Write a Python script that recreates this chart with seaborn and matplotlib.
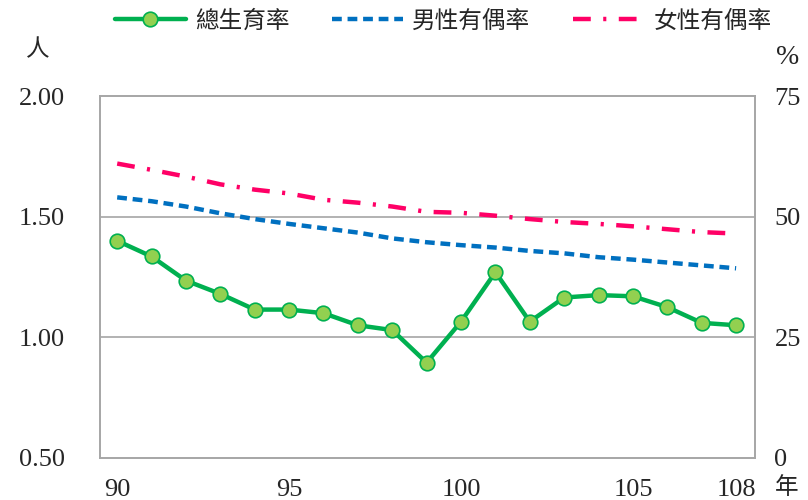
import numpy as np
import pandas as pd
import matplotlib
matplotlib.use("Agg")
import matplotlib.pyplot as plt
import seaborn as sns

# data (ROC years 90-108)
years = list(range(90, 109))
tfr = [1.400, 1.335, 1.235, 1.180, 1.115, 1.115, 1.100, 1.050, 1.030, 0.895,
       1.065, 1.270, 1.065, 1.165, 1.175, 1.170, 1.125, 1.060, 1.050]
male_married = [54.0, 53.2, 52.1, 50.7, 49.5, 48.5, 47.6, 46.7, 45.5, 44.7,
                44.1, 43.6, 42.9, 42.4, 41.6, 41.1, 40.5, 39.9, 39.3]
female_married = [61.0, 59.7, 58.3, 56.7, 55.6, 54.8, 53.5, 52.9, 52.1, 51.0,
                  50.8, 50.2, 49.5, 48.9, 48.5, 48.0, 47.4, 46.8, 46.5]
xticks = [90, 95, 100, 105, 108]
left_ticks = [0.5, 1.0, 1.5, 2.0]
right_ticks = [0, 25, 50, 75]

df = pd.DataFrame({"year": years, "tfr": tfr,
                   "male": male_married, "female": female_married})

sns.set_theme(style="white")
plt.rcParams['font.family'] = ['Liberation Serif', 'Noto Sans CJK TC']
cjk = ['Noto Sans CJK TC', 'DejaVu Sans']

fig = plt.figure(figsize=(8.08, 5.0), dpi=100)
ax = fig.add_axes([100 / 808, 1 - 458 / 500, 655 / 808, 362 / 500])
ax2 = ax.twinx()

grey = '#a6a6a6'
for v in [1.0, 1.5]:
    ax.axhline(v, color=grey, lw=1.2, zorder=0)

sns.lineplot(data=df, x='year', y='tfr', ax=ax, color='#00b050', lw=3.2,
             marker='o', markersize=10.5, markerfacecolor='#92d050',
             markeredgecolor='#00b050', markeredgewidth=1.2, label='總生育率',
             legend=False, zorder=3)
sns.lineplot(data=df, x='year', y='male', ax=ax2, color='#0070c0', lw=3.2,
             dashes=False, label='男性有偶率', legend=False)
sns.lineplot(data=df, x='year', y='female', ax=ax2, color='#ff0066', lw=3.2,
             label='女性有偶率', legend=False)
ax2.lines[0].set_dashes((2.2, 1.3))
ax2.lines[1].set_dashes((4.0, 2.8, 0.7, 2.8))

ax.set_xlim(89.5, 108.55)
ax.set_ylim(0.5, 2.0)
ax2.set_ylim(0, 75)
ax.set_xticks(xticks)
ax.set_yticks(left_ticks)
ax.set_yticklabels([f"{t:.2f}" for t in left_ticks])
ax2.set_yticks(right_ticks)
ax.set_xlabel('')
ax.set_ylabel('')
ax2.set_ylabel('')

ax.tick_params(axis='y', length=0, pad=25, labelsize=19)
ax.tick_params(axis='x', length=0, pad=15, labelsize=19)
ax2.tick_params(axis='y', length=0, pad=14, labelsize=19)
for a in (ax, ax2):
    for s in a.spines.values():
        s.set_color(grey)
        s.set_linewidth(1.2)

fig.text(38 / 808, 1 - 50 / 500, '人', family=cjk, fontsize=17, ha='center', va='center')
fig.text(788 / 808, 1 - 58 / 500, '%', fontsize=20, ha='center', va='center')
fig.text(787 / 808, 1 - 488 / 500, '年', family=cjk, fontsize=17, ha='center', va='center')

handles = [ax.lines[-1], ax2.lines[0], ax2.lines[1]]
labels = ['總生育率', '男性有偶率', '女性有偶率']
fig.legend(handles, labels, loc='center', bbox_to_anchor=(443 / 808, 1 - 21 / 500),
           ncol=3, frameon=False, prop={'family': cjk, 'size': 17},
           handlelength=3.0, handletextpad=0.4, columnspacing=1.8)

fig.savefig('out.png', dpi=100, facecolor='white')
